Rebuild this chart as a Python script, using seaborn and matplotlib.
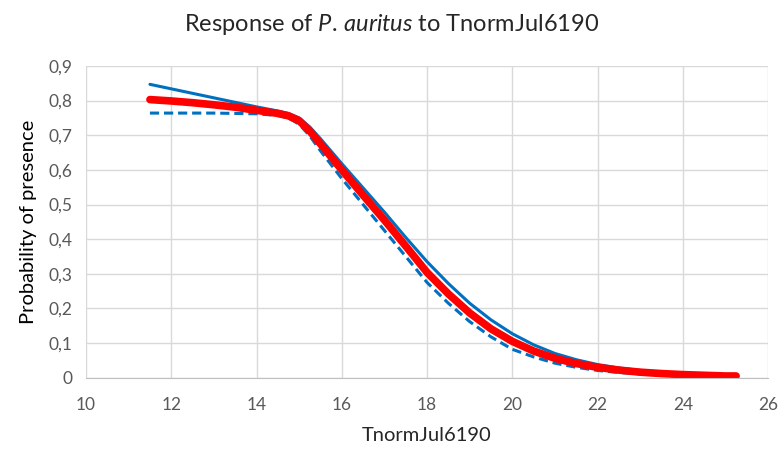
import matplotlib
matplotlib.use("Agg")
import matplotlib.pyplot as plt
import matplotlib.ticker as mticker
import pandas as pd
import seaborn as sns

# values
temp = [11.5, 12, 12.5, 13, 13.5, 14, 14.5, 14.75, 15, 15.25, 15.5, 16, 16.5, 17,
        17.5, 18, 18.5, 19, 19.5, 20, 20.5, 21, 21.5, 22, 22.5, 23, 23.5, 24,
        24.5, 25, 25.25]
prob_mean = [0.803, 0.799, 0.794, 0.788, 0.781, 0.772, 0.763, 0.756, 0.742, 0.712,
             0.675, 0.600, 0.527, 0.455, 0.380, 0.304, 0.242, 0.187, 0.141, 0.105,
             0.077, 0.056, 0.041, 0.030, 0.022, 0.016, 0.012, 0.009, 0.007, 0.005,
             0.005]
prob_upper = [0.847, 0.834, 0.821, 0.808, 0.795, 0.782, 0.770, 0.763, 0.750, 0.724,
              0.690, 0.618, 0.548, 0.478, 0.405, 0.335, 0.272, 0.215, 0.167, 0.127,
              0.095, 0.070, 0.052, 0.038, 0.028, 0.021, 0.015, 0.011, 0.008, 0.006,
              0.006]
prob_lower = [0.764, 0.764, 0.764, 0.764, 0.763, 0.762, 0.757, 0.750, 0.732, 0.698,
              0.655, 0.575, 0.500, 0.425, 0.350, 0.275, 0.215, 0.162, 0.118, 0.082,
              0.060, 0.042, 0.030, 0.021, 0.015, 0.011, 0.008, 0.005, 0.004, 0.003,
              0.003]
x_ticks = [10, 12, 14, 16, 18, 20, 22, 24, 26]

df = pd.DataFrame({"temp": temp, "mean": prob_mean,
                   "upper": prob_upper, "lower": prob_lower})

sns.set_style("white")
plt.rcParams["font.family"] = ["Lato", "DejaVu Sans"]
plt.rcParams["mathtext.fontset"] = "custom"
plt.rcParams["mathtext.rm"] = "Lato"
plt.rcParams["mathtext.it"] = "Lato:italic"

fig = plt.figure(figsize=(7.84, 4.51), dpi=100)
ax = fig.add_axes([0.1097, 0.1625, 0.8700, 0.6912])

blue = "#0070C0"
sns.lineplot(data=df, x="temp", y="upper", color=blue, linewidth=2.2, ax=ax)
sns.lineplot(data=df, x="temp", y="lower", color=blue, linewidth=2.2,
             linestyle=(0, (3, 1.6)), ax=ax)
sns.lineplot(data=df, x="temp", y="mean", color="#FF0000", linewidth=5.5,
             solid_capstyle="round", ax=ax)

ax.set_xlim(10, 26)
ax.set_ylim(0, 0.9)
ax.set_xticks(x_ticks)
ax.set_yticks([i / 10 for i in range(10)])
ax.yaxis.set_major_formatter(mticker.FuncFormatter(
    lambda v, p: "0" if abs(v) < 1e-9 else f"{v:.1f}".replace(".", ",")))

ax.grid(True, color="#D9D9D9", linewidth=1)
ax.set_axisbelow(True)
for s in ["top", "right", "left"]:
    ax.spines[s].set_visible(False)
ax.spines["bottom"].set_color("#BFBFBF")
ax.tick_params(axis="x", length=0, labelsize=12.5, labelcolor="#595959", pad=14)
ax.tick_params(axis="y", length=0, labelsize=12.5, labelcolor="#595959", pad=10)

ax.set_xlabel("TnormJul6190", fontsize=14.5, color="#262626", labelpad=10)
ax.set_ylabel("Probability of presence", fontsize=14.5, color="#000000", labelpad=8)
fig.text(0.5, 0.945, r"Response of $\it{P.\,auritus}$ to TnormJul6190",
         ha="center", va="center", fontsize=17)

fig.savefig("out.png", dpi=100)
